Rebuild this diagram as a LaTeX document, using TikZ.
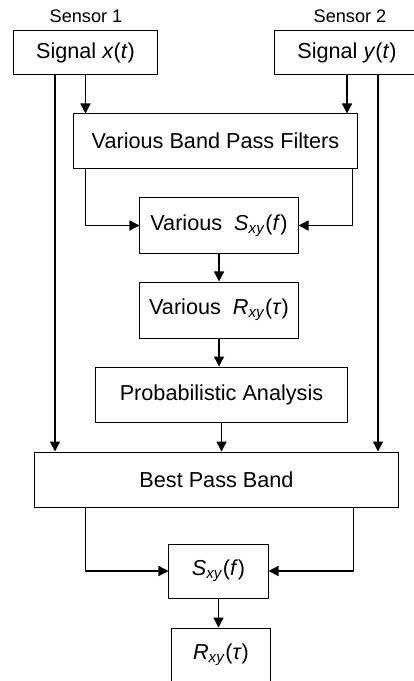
\documentclass[tikz,border=0pt]{standalone}
\usepackage{fontspec}
\setmainfont{Liberation Sans}
\usepackage{tikz}
\usetikzlibrary{positioning, calc, arrows.meta}
\tikzset{
	boxnode/.style={
			shape=rectangle,
			draw=black,
			line width=0.7pt,
			fill=white,
			inner sep=0pt,
			font=\fontsize{15.4}{18}\selectfont
		},
	labelnode/.style={
			inner sep=0pt,
			font=\fontsize{12.9}{15}\selectfont
		},
	flowline/.style={
			line width=1pt,
			-{Triangle[length=0.25cm, width=0.25cm]}
		}
}

\begin{document}
\begin{tikzpicture}[x=0.025cm, y=-0.025cm]

  \useasboundingbox (0,0) rectangle (413,681);

  \node[labelnode] (l1) at (86,16) {Sensor 1};
  \node[labelnode] (l2) at (350,16) {Sensor 2};

  \node[boxnode, minimum width=3.575cm, minimum height=1.075cm] (sx) at (85.5,52.5) {Signal \textit{x}(\textit{t})};
  \node[boxnode, minimum width=3.6cm, minimum height=1.075cm] (sy) at (347,52.5) {Signal \textit{y}(\textit{t})};

  \node[boxnode, minimum width=7.075cm, minimum height=1.35cm] (bpf) at (215.5,141) {Various Band Pass Filters};
  \node[boxnode, minimum width=3.95cm, minimum height=1.375cm] (vs) at (219,225.5) {Various~~\textit{S}\textsubscript{\textit{xy}}(\textit{f})};
  \node[boxnode, minimum width=3.95cm, minimum height=1.4cm] (vr) at (219,310) {Various~~\textit{R}\textsubscript{\textit{xy}}(\textit{τ})};
  \node[boxnode, minimum width=6.275cm, minimum height=1.375cm] (pa) at (221.5,394.5) {Probabilistic Analysis};
  \node[boxnode, minimum width=9.075cm, minimum height=1.375cm] (bpb) at (216.5,479.5) {Best Pass Band};
  \node[boxnode, minimum width=2.475cm, minimum height=1.35cm] (s) at (218.5,571) {\textit{S}\textsubscript{\textit{xy}}(\textit{f})};
  \node[boxnode, minimum width=2.45cm, minimum height=1.35cm] (r) at (221,655) {\textit{R}\textsubscript{\textit{xy}}(\textit{τ})};

  \draw[flowline] (sx.south) -- (sx.south |- bpf.north);
  \draw[flowline] ([xshift=-0.7625cm]sx.south) -- ([xshift=-0.7625cm]sx.south |- bpb.north);
  \draw[flowline] (sy.south) -- (sy.south |- bpf.north);
  \draw[flowline] ([xshift=0.775cm]sy.south) -- ([xshift=0.775cm]sy.south |- bpb.north);

  \draw[flowline] ([xshift=0.3cm]bpf.south west) |- (vs.west);
  \draw[flowline] ([xshift=-0.125cm]bpf.south east) |- (vs.east);
  \draw[flowline] (vs) -- (vr);
  \draw[flowline] (vr.south) -- (vr.south |- pa.north);
  \draw[flowline] (pa.south) -- (pa.south |- bpb.north);

  \draw[flowline] ([xshift=1.275cm]bpb.south west) |- (s.west);
  \draw[flowline] ([xshift=-1.125cm]bpb.south east) |- (s.east);
  \draw[flowline] (s.south) -- (s.south |- r.north);

\end{tikzpicture}
\end{document}
